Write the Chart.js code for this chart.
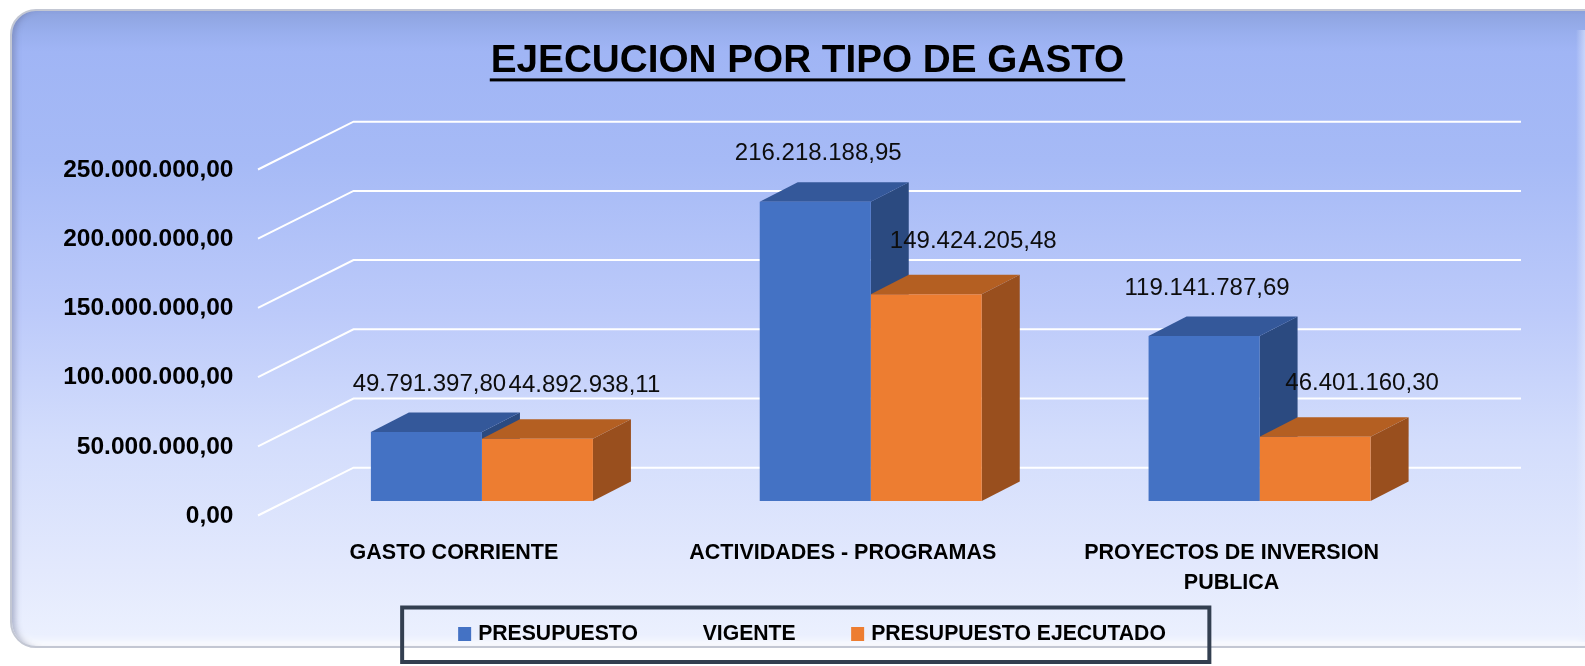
<!DOCTYPE html>
<html>
<head>
<meta charset="utf-8">
<script src="https://cdn.jsdelivr.net/npm/chart.js"></script>
<style>
  html, body { margin: 0; padding: 0; background: #ffffff; }
  #wrap { position: relative; width: 1585px; height: 666px; overflow: hidden; }
  #panel {
    position: absolute; left: 10px; top: 9px; width: 1600px; height: 635px;
    border-radius: 26px;
    border: 2px solid #c3c7d3;
    background: linear-gradient(to bottom, #8ea3df 0px, #99afee 22px, #a0b5f5 40px, #a6baf6 150px,
      #bccafa 300px, #d3ddfc 430px, #e3e9fd 560px, #ebf0fe 625px);
    box-shadow: inset 7px 0 6px -4px rgba(90, 100, 140, 0.45), inset 0 -10px 8px -6px #ffffff;
  }
  #edge {
    position: absolute; left: 1576px; top: 30px; width: 9px; height: 612px;
    background: linear-gradient(to right, rgba(255,255,255,0.0), rgba(235,240,255,0.55));
  }
  canvas { position: absolute; left: 0; top: 0; }
</style>
</head>
<body>
<div id="wrap"><div id="panel"></div><div id="edge"></div><canvas id="chart" width="1585" height="666"></canvas></div>
<script>
// data
const categories = [["GASTO CORRIENTE"], ["ACTIVIDADES - PROGRAMAS"], ["PROYECTOS DE INVERSION", "PUBLICA"]];
const presupuestoVigente = [49791397.80, 216218188.95, 119141787.69];
const presupuestoEjecutado = [44892938.11, 149424205.48, 46401160.30];
const seriesNames = ["PRESUPUESTO           VIGENTE", "PRESUPUESTO EJECUTADO"];
const yMax = 250000000;
const yStep = 50000000;
const chartTitle = "EJECUCION POR TIPO DE GASTO";

// 1.234.567,89 style
function fmt(v) {
  const parts = v.toFixed(2).split(".");
  return parts[0].replace(/\B(?=(\d{3})+(?!\d))/g, ".") + "," + parts[1];
}

const SANS = '"Liberation Sans", Arial, sans-serif';
const TITLE_FAMILY = '"Liberation Sans Narrow", "Liberation Sans", Arial, sans-serif';

// size the title to its width in the picture
const probe = document.createElement("canvas").getContext("2d");
probe.font = "bold 100px " + TITLE_FAMILY;
const titleSize = Math.round(100 * 633 / probe.measureText(chartTitle).width * 10) / 10;

const DX = 38, DY = -19.5; // bar depth

const depthPlugin = {
  id: "depth",
  beforeDatasetsDraw(chart) {
    const { ctx, chartArea: a, scales: { y } } = chart;
    ctx.save();
    // back wall grid lines
    ctx.strokeStyle = "#ffffff";
    ctx.lineWidth = 2;
    y.ticks.forEach(t => {
      const py = y.getPixelForValue(t.value);
      ctx.beginPath();
      ctx.moveTo(a.left - 29.5, py + 14.5);
      ctx.lineTo(a.left + 66, py - 33.3);
      ctx.lineTo(a.right + 67, py - 33.3);
      ctx.stroke();
    });
    // tops and sides of the bars
    for (let i = 0; i < chart.data.labels.length; i++) {
      chart.data.datasets.forEach((ds, di) => {
        const bar = chart.getDatasetMeta(di).data[i];
        const { x, y: top, base, width } = bar.getProps(["x", "y", "base", "width"], true);
        const l = x - width / 2, r = x + width / 2;
        ctx.fillStyle = ds.sideColor;
        ctx.beginPath();
        ctx.moveTo(r, top); ctx.lineTo(r + DX, top + DY); ctx.lineTo(r + DX, base + DY); ctx.lineTo(r, base);
        ctx.closePath(); ctx.fill();
        ctx.fillStyle = ds.topColor;
        ctx.beginPath();
        ctx.moveTo(l, top); ctx.lineTo(l + DX, top + DY); ctx.lineTo(r + DX, top + DY); ctx.lineTo(r, top);
        ctx.closePath(); ctx.fill();
      });
    }
    ctx.restore();
  },
  afterDatasetsDraw(chart) {
    const { ctx } = chart;
    ctx.save();
    ctx.font = "24px " + SANS;
    ctx.fillStyle = "#0d0d0d";
    ctx.textAlign = "center";
    ctx.textBaseline = "middle";
    chart.data.datasets.forEach((ds, di) => {
      chart.getDatasetMeta(di).data.forEach((bar, i) => {
        const { x, y } = bar.getProps(["x", "y"], true);
        ctx.fillText(fmt(ds.data[i]), x + ds.labelDx, y + ds.labelDy);
      });
    });
    ctx.restore();
  },
  afterDraw(chart) {
    const { ctx } = chart;
    ctx.save();
    // title underline
    const tb = chart.titleBlock;
    ctx.font = "bold " + titleSize + "px " + TITLE_FAMILY;
    const tw = ctx.measureText(chartTitle).width;
    const cx = (tb.left + tb.right) / 2;
    const cy = tb.top + tb.options.padding.top + titleSize * 0.6;
    ctx.fillStyle = "#000000";
    ctx.fillRect(cx - tw / 2 - 1, cy + titleSize * 0.45, tw + 2, 3);

    // legend
    ctx.font = "bold 21.2px " + SANS;
    ctx.textBaseline = "middle";
    ctx.textAlign = "left";
    const items = chart.data.datasets.map(ds => ({ text: ds.label, color: ds.backgroundColor, w: ctx.measureText(ds.label).width }));
    const total = items.reduce((s, it) => s + 13 + 7 + it.w, 0) + 55.5 * (items.length - 1);
    let x = 812 - total / 2;
    const ly = 634;
    const boxLeft = x - 56;
    items.forEach((it, k) => {
      ctx.fillStyle = it.color;
      ctx.fillRect(x, ly - 7, 13, 14);
      ctx.fillStyle = "#000000";
      ctx.fillText(it.text, x + 20, ly);
      x += 20 + it.w + (k < items.length - 1 ? 55.5 : 0);
    });
    ctx.strokeStyle = "#333f50";
    ctx.lineWidth = 4;
    ctx.strokeRect(boxLeft, 607.5, x + 43.5 - boxLeft, 54.5);
    ctx.restore();
  }
};

new Chart("chart", {
  type: "bar",
  data: {
    labels: categories,
    datasets: [
      {
        label: seriesNames[0],
        data: presupuestoVigente,
        backgroundColor: "#4472c4",
        topColor: "#34589a",
        sideColor: "#2b4a80",
        labelDx: 3,
        labelDy: -48
      },
      {
        label: seriesNames[1],
        data: presupuestoEjecutado,
        backgroundColor: "#ed7d31",
        topColor: "#b45f22",
        sideColor: "#994f1e",
        labelDx: 47,
        labelDy: -53
      }
    ]
  },
  options: {
    responsive: false,
    animation: false,
    layout: { padding: { left: 30, right: 0, top: 0, bottom: 0 } },
    datasets: { bar: { barPercentage: 1, categoryPercentage: 0.571 } },
    plugins: {
      legend: { display: false },
      tooltip: { enabled: false },
      title: {
        display: true,
        text: chartTitle,
        color: "#000000",
        font: { family: TITLE_FAMILY, size: titleSize, weight: "bold", lineHeight: 1.2 },
        padding: { top: 61 - titleSize * 0.6, bottom: 155 - 61 - titleSize * 0.6 }
      }
    },
    scales: {
      x: {
        grid: { display: false, drawTicks: false },
        border: { display: false },
        ticks: {
          color: "#000000",
          font: { family: SANS, size: 21.5, weight: "bold", lineHeight: 1.4 },
          padding: 37,
          labelOffset: -28,
          maxRotation: 0,
          autoSkip: false
        },
        afterFit(s) { s.height = 165; }
      },
      y: {
        min: 0,
        max: yMax,
        grid: { display: false, drawTicks: false },
        border: { display: false },
        ticks: {
          stepSize: yStep,
          color: "#000000",
          font: { family: SANS, size: 24.5, weight: "bold" },
          padding: 54,
          labelOffset: 15,
          callback: v => fmt(v)
        },
        afterFit(s) { s.width = 257.5; }
      },
      y2: {
        position: "right",
        grid: { display: false, drawTicks: false },
        border: { display: false },
        ticks: { display: false },
        afterFit(s) { s.width = 131; }
      }
    }
  },
  plugins: [depthPlugin]
});
</script>
</body>
</html>
